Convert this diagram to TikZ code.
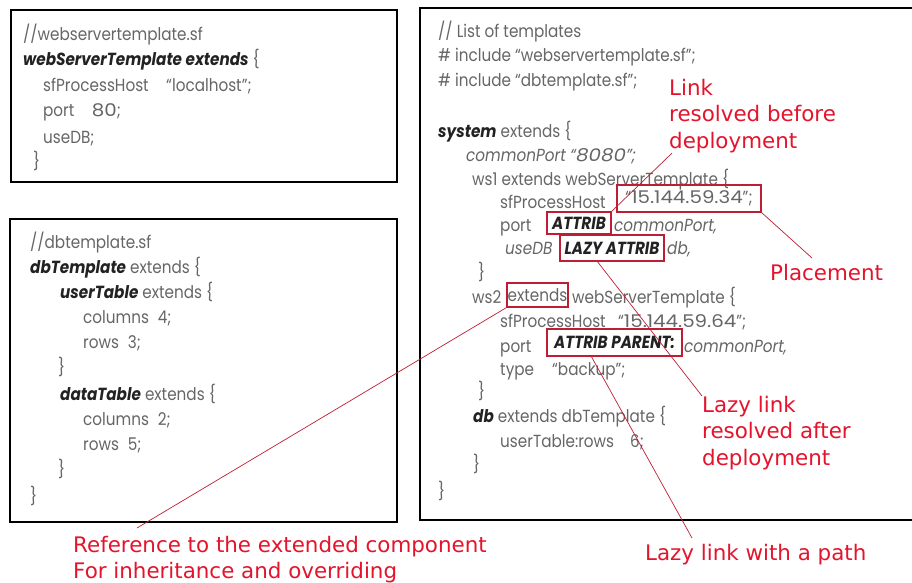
\documentclass[tikz,border=0pt]{standalone}
\usepackage{fontspec}
\usepackage{graphicx}
\setmainfont{DejaVu Sans}
\newfontfamily\codefont{Poppins}[FakeStretch=0.87]
\newfontfamily\lblfont{DejaVu Sans}
\usetikzlibrary{calc}
\definecolor{codegray}{HTML}{666666}
\definecolor{kwdark}{HTML}{222222}
\definecolor{lblred}{HTML}{E3142C}
\definecolor{linered}{HTML}{BE1E34}
\newcommand\kw[1]{{\color{kwdark}\bfseries\itshape #1}}
\newcommand\itx[1]{{\itshape #1}}
\newcommand\widetxt[1]{\scalebox{1.3}[1]{#1}}
\begin{document}
\begin{tikzpicture}[x=1pt,y=-1pt,
  code/.style={anchor=base west, inner sep=0pt, text=codegray, font={\codefont\fontsize{17.5}{20}\selectfont}},
  panel/.style={draw=black, line width=2.6pt},
  rbox/.style={draw=linered, line width=1.2pt, inner sep=0pt, text=codegray, font={\codefont\fontsize{17.5}{20}\selectfont}},
  lbl/.style={anchor=north west, inner sep=0pt, align=left, text=lblred, font={\lblfont\fontsize{21.4}{26.5}\selectfont}},
  conn/.style={draw=linered, line width=0.7pt}]
\useasboundingbox (0,0) rectangle (912,583);
\fill[white] (0,0) rectangle (912,583);
% panels
\draw[panel] (11,10) rectangle (397,182);
\draw[panel] (10,219) rectangle (397,522);
\draw[panel] (420,8) rectangle (916,520);
% box 1
\node[code] (a1) at (23,41) {//webservertemplate.sf};
\node[code] (a2) at (23,66) {\kw{webServerTemplate extends} \{};
\node[code] (a3) at (43,92) {sfProcessHost\quad “localhost”;};
\node[code] (a4) at (43,117) {port\quad \widetxt{80};};
\node[code] (a5) at (43,143) {useDB;};
\node[code] (a6) at (33,167) {\}};
% box 2
\node[code] (b1) at (30,248) {//dbtemplate.sf};
\node[code] (b2) at (30,273) {\kw{dbTemplate} extends \{};
\node[code] (b3) at (60,298) {\kw{userTable} extends \{};
\node[code] (b4) at (83,323) {columns\enspace 4;};
\node[code] (b5) at (83,348) {rows\enspace 3;};
\node[code] (b6) at (58,373) {\}};
\node[code] (b7) at (60,400) {\kw{dataTable} extends \{};
\node[code] (b8) at (83,425) {columns\enspace 2;};
\node[code] (b9) at (83,450) {rows\enspace 5;};
\node[code] (b10) at (58,475) {\}};
\node[code] (b11) at (30,502) {\}};
% box 3
\node[code] (c1) at (438,38) {// List of templates};
\node[code] (c2) at (438,62) {\# include “webservertemplate.sf”;};
\node[code] (c3) at (438,87) {\# include “dbtemplate.sf”;};
\node[code] (c4) at (438,137) {\kw{system} extends \{};
\node[code] (c5) at (466,161) {\itx{commonPort “\widetxt{8080}”;}};
\node[code] (c6) at (472,185) {ws1 extends webServerTemplate \{};
\node[code] (c7) at (500,208) {sfProcessHost};
\node[rbox, minimum width=144, minimum height=27] (ip1) at (689,198.5) {“\widetxt{15.144.59.34}”;};
\node[code] (c8) at (500,231) {port};
\node[rbox, minimum width=64, minimum height=22] (attr) at (579,223) {\kw{ATTRIB}};
\node[code] (c9) at (614,231) {\itx{commonPort,}};
\node[code] (c10) at (505,254) {\itx{useDB}};
\node[rbox, minimum width=104, minimum height=26] (lazy) at (612,248) {\kw{LAZY ATTRIB}};
\node[code] (c11) at (667,254) {\itx{db,}};
\node[code] (c12) at (478,278) {\}};
\node[code] (c13) at (472,303) {ws2};
\node[rbox, minimum width=61, minimum height=24] (ext) at (537.5,295) {extends};
\node[code] (c14) at (572,303) {webServerTemplate \{};
\node[code] (c15) at (500,327) {sfProcessHost};
\node[code] (c15b) at (618,327) {“\widetxt{15.144.59.64}”;};
\node[code] (c16) at (500,352) {port};
\node[rbox, minimum width=135, minimum height=27] (par) at (614.5,342.5) {\kw{ATTRIB PARENT:}};
\node[code] (c17) at (684,352) {\itx{commonPort,}};
\node[code] (c18) at (500,375) {type};
\node[code] (c19) at (552,375) {“backup”;};
\node[code] (c20) at (478,397) {\}};
\node[code] (c21) at (473,422) {\kw{db} extends dbTemplate \{};
\node[code] (c22) at (500,447) {userTable:rows};
\node[code] (c23) at (630,447) {6;};
\node[code] (c24) at (473,470) {\}};
\node[code] (c25) at (438,497) {\}};
% labels
\node[lbl] (linklbl) at (669,79) {Link\\resolved before\\deployment};
\node[lbl] (place) at (770,264) {Placement};
\node[lbl] (lazylbl) at (702,396) {Lazy link\\resolved after\\deployment};
\node[lbl] (pathlbl) at (645,544) {Lazy link with a path};
\node[lbl] (reflbl) at (73,536) {Reference to the extended component\\For inheritance and overriding};
% connectors
\draw[conn] (attr.north east) -- ([xshift=3pt]linklbl.south west);
\draw[conn] (ip1.south east) -- ([xshift=42pt,yshift=6pt]place.north west);
\draw[conn] ([xshift=38pt]lazy.south west) -- (lazylbl.north west);
\draw[conn] ([xshift=45pt]par.south west) -- ([xshift=47pt,yshift=6pt]pathlbl.north west);
\draw[conn] (ext.south west) -- ([xshift=64pt,yshift=8pt]reflbl.north west);
\end{tikzpicture}
\end{document}
